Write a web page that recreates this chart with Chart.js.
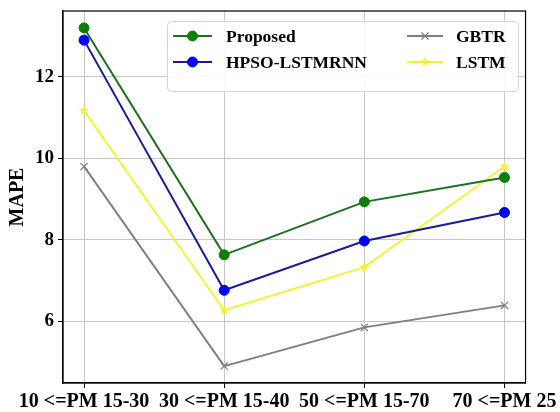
<!DOCTYPE html>
<html><head><meta charset="utf-8">
<script src="https://cdn.jsdelivr.net/npm/chart.js@4/dist/chart.umd.min.js"></script>
<style>html,body{margin:0;padding:0;background:#fff}</style>
</head><body>
<canvas id="c" width="560" height="412"></canvas>
<script>
const categories = ['10 <=PM 15-30', '30 <=PM 15-40', '50 <=PM 15-70', '70 <=PM 25'];
const proposed = [13.2, 7.63, 8.93, 9.53];
const hpso = [12.9, 6.76, 7.97, 8.67];
const gbtr = [9.8, 4.9, 5.85, 6.39];
const lstm = [11.17, 6.27, 7.33, 9.8];
const seriesNames = ['Proposed', 'HPSO-LSTMRNN', 'GBTR', 'LSTM'];
const yTicks = [6, 8, 10, 12];

const FONT = 'Liberation Serif';

function makeStar(r, color) {
  const s = Math.ceil(r * 2 + 2);
  const c = document.createElement('canvas');
  c.width = s; c.height = s;
  const g = c.getContext('2d');
  g.fillStyle = color;
  g.beginPath();
  for (let i = 0; i < 10; i++) {
    const rr = i % 2 ? r * 0.42 : r;
    const a = -Math.PI / 2 + i * Math.PI / 5;
    g.lineTo(s / 2 + rr * Math.cos(a), s / 2 + rr * Math.sin(a));
  }
  g.closePath();
  g.fill();
  return c;
}
const starImg = makeStar(5.5, '#f2f23a');

function pts(arr) { return categories.map((c, i) => ({ x: i, y: arr[i] })); }

const frame = {
  id: 'frame',
  afterDatasetsDraw(chart) {
    const { ctx, chartArea: a } = chart;
    ctx.save();
    ctx.strokeStyle = '#000';
    ctx.lineWidth = 1.2;
    ctx.strokeRect(a.left, a.top, a.right - a.left, a.bottom - a.top);
    ctx.restore();
  }
};

const mlLegend = {
  id: 'mlLegend',
  afterDraw(chart) {
    const { ctx, chartArea: a } = chart;
    const x0 = a.left + 104, y0 = a.top + 10, w = 351, h = 70;
    ctx.save();
    ctx.fillStyle = 'rgba(255,255,255,0.85)';
    ctx.strokeStyle = '#d4d4d4';
    ctx.lineWidth = 1;
    ctx.beginPath();
    ctx.roundRect(x0 + 0.5, y0 + 0.5, w, h, 4);
    ctx.fill();
    ctx.stroke();
    const layout = [
      { col: 0, row: 0 }, { col: 0, row: 1 }, { col: 1, row: 0 }, { col: 1, row: 1 }
    ];
    const cols = [{ l0: 6, l1: 45, t: 59 }, { l0: 240, l1: 276, t: 289 }];
    const rows = [15, 41];
    chart.data.datasets.forEach((ds, i) => {
      const L = layout[i], c = cols[L.col], y = y0 + rows[L.row];
      ctx.strokeStyle = ds.borderColor;
      ctx.lineWidth = ds.borderWidth;
      ctx.beginPath();
      ctx.moveTo(x0 + c.l0, y);
      ctx.lineTo(x0 + c.l1, y);
      ctx.stroke();
      ctx.fillStyle = ds.pointBackgroundColor;
      ctx.strokeStyle = ds.pointBorderColor;
      ctx.lineWidth = ds.pointBorderWidth;
      Chart.helpers.drawPoint(ctx, {
        pointStyle: ds.pointStyle, radius: ds.pointRadius, rotation: 0, borderWidth: ds.pointBorderWidth
      }, x0 + (c.l0 + c.l1) / 2, y);
      ctx.fillStyle = '#000';
      ctx.font = 'bold 17.5px "' + FONT + '"';
      ctx.textBaseline = 'middle';
      ctx.textAlign = 'left';
      ctx.fillText(ds.label, x0 + c.t, y + 1);
    });
    ctx.restore();
  }
};

new Chart(document.getElementById('c'), {
  type: 'line',
  data: {
    datasets: [
      { label: seriesNames[0], data: pts(proposed), borderColor: '#1d6e1d', borderWidth: 2,
        pointStyle: 'circle', pointRadius: 5, pointBackgroundColor: '#0a800a', pointBorderColor: '#0a800a', pointBorderWidth: 1 },
      { label: seriesNames[1], data: pts(hpso), borderColor: '#1a1a9c', borderWidth: 2,
        pointStyle: 'circle', pointRadius: 5, pointBackgroundColor: '#0000ff', pointBorderColor: '#0000ff', pointBorderWidth: 1 },
      { label: seriesNames[2], data: pts(gbtr), borderColor: '#808080', borderWidth: 2,
        pointStyle: 'crossRot', pointRadius: 5, pointBackgroundColor: '#808080', pointBorderColor: '#808080', pointBorderWidth: 1.3 },
      { label: seriesNames[3], data: pts(lstm), borderColor: '#f2f23a', borderWidth: 2,
        pointStyle: starImg, pointRadius: 5, pointBackgroundColor: '#f2f23a', pointBorderColor: '#f2f23a', pointBorderWidth: 1 }
    ]
  },
  options: {
    responsive: false,
    animation: false,
    layout: { padding: { left: 6, right: 34, top: 11, bottom: 0 } },
    plugins: { legend: { display: false }, tooltip: { enabled: false } },
    elements: { line: { tension: 0 } },
    scales: {
      x: {
        type: 'linear', min: -0.15, max: 3.15,
        afterBuildTicks(s) { s.ticks = categories.map((c, i) => ({ value: i })); },
        afterFit(s) { s.height = 29; },
        ticks: {
          callback: (v) => categories[v], color: '#000', padding: 2, maxRotation: 0, autoSkip: false,
          font: { family: FONT, weight: 'bold', size: 20 }
        },
        grid: { color: '#c6c6c6', lineWidth: 1, tickColor: '#000', tickLength: 5 },
        border: { color: '#000', width: 1.2 }
      },
      y: {
        min: 4.485, max: 13.615,
        afterBuildTicks(s) { s.ticks = yTicks.map(v => ({ value: v })); },
        afterFit(s) { s.width = 57; s.paddingTop = 0; s.paddingBottom = 0; },
        ticks: {
          color: '#000', padding: 4,
          font: { family: FONT, weight: 'bold', size: 19 }
        },
        grid: { color: '#c6c6c6', lineWidth: 1, tickColor: '#000', tickLength: 5 },
        border: { color: '#000', width: 1.2 },
        title: { display: true, text: 'MAPE', color: '#000', padding: 0,
          font: { family: FONT, weight: 'bold', size: 20 } }
      }
    }
  },
  plugins: [frame, mlLegend]
});
</script>
</body></html>
